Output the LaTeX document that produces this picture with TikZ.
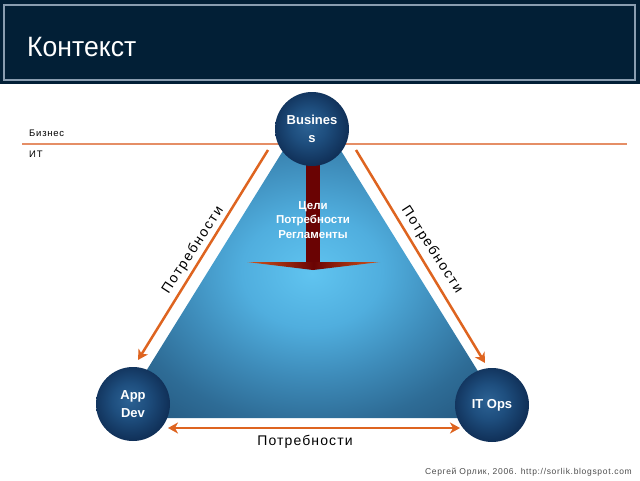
\documentclass[tikz,border=0pt]{standalone}
\usepackage{fontspec}
\setmainfont{Liberation Sans}
\newfontfamily\spacedfont[LetterSpace=12]{Liberation Sans}
\newfontfamily\smallspaced[LetterSpace=8]{Liberation Sans}
\usetikzlibrary{arrows.meta}
\definecolor{headblue}{HTML}{021F36}
\definecolor{headline}{HTML}{8A9DB0}
\definecolor{needorange}{HTML}{DE6420}
\definecolor{lineorange}{HTML}{E58E66}
\definecolor{shaftred}{HTML}{6A0303}
\definecolor{headorange}{HTML}{D4561C}
\definecolor{triA}{RGB}{96,196,240}
\definecolor{triB}{RGB}{80,174,222}
\definecolor{triC}{RGB}{62,140,186}
\definecolor{triD}{RGB}{46,108,150}
\definecolor{triE}{RGB}{32,78,116}
\definecolor{orbA}{RGB}{44,98,148}
\definecolor{orbB}{RGB}{30,78,126}
\definecolor{orbC}{RGB}{16,48,88}
\pgfdeclareradialshading{trishade}{\pgfpoint{0bp}{-2bp}}{color(0bp)=(triA); color(9bp)=(triB); color(17bp)=(triC); color(25bp)=(triD); color(36bp)=(triE); color(50bp)=(triE)}
\pgfdeclareradialshading{orbshade}{\pgfpoint{-3bp}{3bp}}{color(0bp)=(orbA); color(12bp)=(orbB); color(26bp)=(orbC); color(50bp)=(orbC)}
\tikzset{orb/.style={circle, minimum size=74pt, inner sep=0pt, shade, shading=orbshade,
    text=white, align=center, font=\bfseries\fontsize{13}{18}\selectfont},
  need tip/.style={Stealth[length=10pt,width=11pt,inset=3pt]},
  need arrow/.style={needorange, line width=2.5pt, -{Stealth[length=10pt,width=11pt,inset=3pt]}},
  need label/.style={font=\spacedfont\fontsize{14}{16}\selectfont}}

\begin{document}
\begin{tikzpicture}[x=1pt, y=-1pt]
                    \useasboundingbox (0,0) rectangle (640,480);
                    %Header:
                    \fill[headblue] (0,0) rectangle (640,84);
                    \draw[headline, line width=1.5pt] (4,5) rectangle (635,80);
                    \node[anchor=west, inner sep=0pt, text=white, xscale=0.95,
                        font=\fontsize{28}{30}\selectfont] (title) at (27,47) {Контекст};
                    %Business / IT border line:
                    \draw[lineorange, line width=1.5pt] (22,144) -- (627,144);
                    \node[anchor=west, inner sep=0pt, font=\smallspaced\fontsize{9.5}{11}\selectfont] (biz) at (29,133) {Бизнес};
                    \node[anchor=west, inner sep=0pt, font=\smallspaced\fontsize{9.5}{11}\selectfont] (it) at (29,154) {ИТ};
                    %Define corners of the triangle:
                    \coordinate (apex) at (312,104);
                    \coordinate (left) at (117,418);
                    \coordinate (right) at (507,418);
                    \shade[shading=trishade] (apex) -- (left) -- (right) -- cycle;
                    %Goals arrow down from Business:
                    \fill[shaftred] (306,150) rectangle (320,264);
                    \shade[left color=headorange, right color=headorange, middle color=shaftred]
                        (247,262) -- (380,262) -- (313,270) -- cycle;
                    \node[text=white, align=center, font=\bfseries\fontsize{11.5}{14.5}\selectfont] (goals) at (313,220)
                        {Цели\\Потребности\\Регламенты};
                    %The three parties:
                    \node[orb] (business) at (312,129) {Busines\\s};
                    \node[orb] (appdev) at (133,404) {App\\Dev};
                    \node[orb] (itops) at (492,405) {IT Ops};
                    %Define start and endpoints of the needs:
                    \coordinate (bl) at (268,150);
                    \coordinate (al) at (138,360);
                    \coordinate (br) at (356,150);
                    \coordinate (ir) at (485,363);
                    \coordinate (ab) at (168,428);
                    \coordinate (ib) at (460,428);
                    \draw[need arrow] (bl) -- (al);
                    \draw[need arrow] (br) -- (ir);
                    \draw[need arrow, {Stealth[length=10pt,width=11pt,inset=3pt]}-{Stealth[length=10pt,width=11pt,inset=3pt]}] (ab) -- (ib);
                    \node[need label, rotate=57] (needleft) at (193,250) {Потребности};
                    \node[need label, rotate=-57] (needright) at (432,250) {Потребности};
                    \node[font=\smallspaced\fontsize{14}{16}\selectfont] (needbottom) at (305,442) {Потребности};
                    %Source:
                    \node[anchor=east, inner sep=0pt, text=black!70, font=\smallspaced\fontsize{8.5}{10}\selectfont] (source) at (632,472)
                        {Сергей Орлик, 2006. http://sorlik.blogspot.com};
\end{tikzpicture}
\end{document}
